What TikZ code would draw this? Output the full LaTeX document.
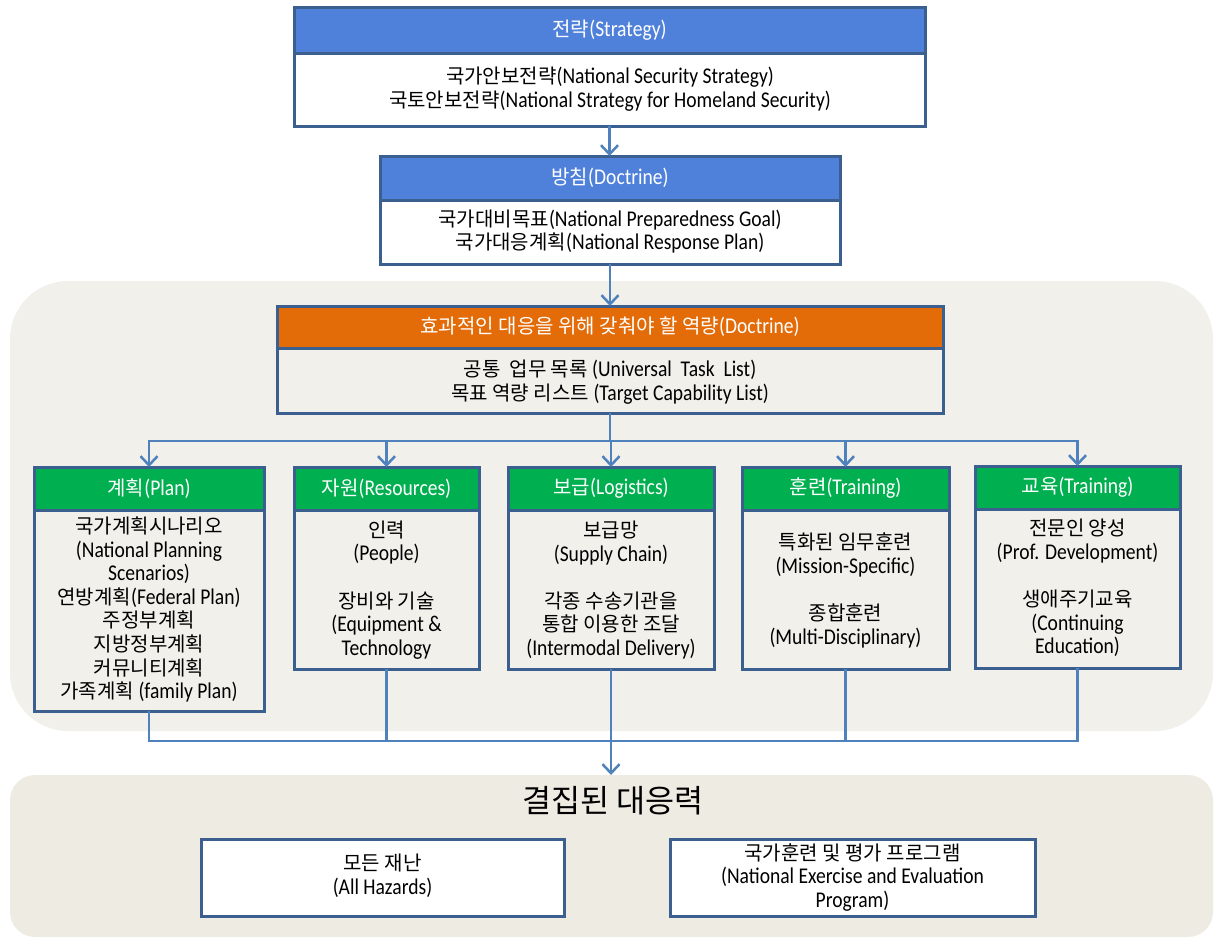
\documentclass[tikz,border=0pt]{standalone}
\usepackage{fontspec}
\setmainfont{Carlito}[FakeStretch=0.87]
\newfontfamily\kr{Noto Sans CJK KR}[Scale=0.89]
\usetikzlibrary{arrows.meta}
\newcommand{\K}[1]{{\kr #1}}
\definecolor{bord}{HTML}{3B5F8E}
\definecolor{hblue}{HTML}{4F81DB}
\definecolor{hgreen}{HTML}{00B050}
\definecolor{horange}{HTML}{E36C09}
\definecolor{conncol}{HTML}{4F81BD}
\definecolor{bgA}{HTML}{F1F0EB}
\definecolor{bgB}{HTML}{EEECE2}
\tikzset{
  frame/.style={draw=bord, line width=3pt, anchor=north west, outer sep=0pt, inner sep=0pt},
  hdr/.style={frame, text=white, font=\fontsize{22.5}{23.6}\selectfont},
  zone/.style={anchor=north west, outer sep=0pt, inner sep=0pt, draw=none},
  txt/.style={align=center, inner sep=0pt, font=\fontsize{22.5}{23.6}\selectfont},
  conn/.style={draw=conncol, line width=2.5pt},
  arr/.style={conn, -{Straight Barb[length=9pt,width=17pt]}},
}
\begin{document}
\begin{tikzpicture}[x=1pt,y=-1pt]
\useasboundingbox (0,0) rectangle (1223,946);
% background zones
\node[zone, fill=bgA, minimum width=1203pt, minimum height=450pt, rounded corners=58pt] (zoneA) at (10,281) {};
\node[zone, fill=bgB, minimum width=1203pt, minimum height=162pt, rounded corners=25pt] (zoneB) at (10,775) {};
% strategy
\node[frame, fill=white, minimum width=631pt, minimum height=119pt] (s) at (294,7) {};
\node[hdr, fill=hblue, minimum width=631pt, minimum height=46pt] (sh) at (294,7) {\K{전략}(Strategy)};
\node[txt] (st) at (610,89) {\K{국가안보전략}(National Security Strategy)\\\K{국토안보전략}(National Strategy for Homeland Security)};
% doctrine
\node[frame, fill=white, minimum width=460pt, minimum height=108pt] (d) at (380,156) {};
\node[hdr, fill=hblue, minimum width=460pt, minimum height=44pt] (dh) at (380,156) {\K{방침}(Doctrine)};
\node[txt] (dt) at (610,231.5) {\K{국가대비목표}(National Preparedness Goal)\\\K{국가대응계획}(National Response Plan)};
% capability
\node[frame, minimum width=666pt, minimum height=107pt] (o) at (277,306) {};
\node[hdr, fill=horange, minimum width=666pt, minimum height=42pt] (oh) at (277,306) {\K{효과적인 대응을 위해 갖춰야 할 역량}(Doctrine)};
\node[txt] (ot) at (610,382) {\K{공통\ \ 업무 목록} (Universal\ \ Task\ \ List)\\\K{목표 역량 리스트} (Target Capability List)};
% five boxes
\node[frame, minimum width=230pt, minimum height=244pt] (b1) at (34,467) {};
\node[hdr, fill=hgreen, minimum width=230pt, minimum height=43pt] (b1h) at (34,467) {\K{계획}(Plan)};
\node[txt] (b1t) at (149,609.5) {\K{국가계획시나리오}\\(National Planning\\Scenarios)\\\K{연방계획}(Federal Plan)\\\K{주정부계획}\\\K{지방정부계획}\\\K{커뮤니티계획}\\\K{가족계획} (family Plan)};
\node[frame, minimum width=185pt, minimum height=202pt] (b2) at (294,467) {};
\node[hdr, fill=hgreen, minimum width=185pt, minimum height=43pt] (b2h) at (294,467) {\K{자원}(Resources)};
\node[txt] (b2t) at (386.5,590) {\K{인력}\\(People)\\[23.6pt]\K{장비와 기술}\\(Equipment \&\\Technology};
\node[frame, minimum width=206pt, minimum height=202pt] (b3) at (508,467) {};
\node[hdr, fill=hgreen, minimum width=206pt, minimum height=43pt] (b3h) at (508,467) {\K{보급}(Logistics)};
\node[txt] (b3t) at (611,590) {\K{보급망}\\(Supply Chain)\\[23.6pt]\K{각종 수송기관을}\\\K{통합 이용한 조달}\\(Intermodal Delivery)};
\node[frame, minimum width=207pt, minimum height=202pt] (b4) at (742,467) {};
\node[hdr, fill=hgreen, minimum width=207pt, minimum height=43pt] (b4h) at (742,467) {\K{훈련}(Training)};
\node[txt] (b4t) at (845.5,590.5) {\K{특화된 임무훈련}\\(Mission-Specific)\\[23.6pt]\K{종합훈련}\\(Multi-Disciplinary)};
\node[frame, minimum width=205pt, minimum height=202pt] (b5) at (975,466) {};
\node[hdr, fill=hgreen, minimum width=205pt, minimum height=43pt] (b5h) at (975,466) {\K{교육}(Training)};
\node[txt] (b5t) at (1077.5,588) {\K{전문인 양성}\\(Prof. Development)\\[23.6pt]\K{생애주기교육}\\(Continuing\\Education)};
% bottom
\node[font=\fontsize{35.5}{38}\selectfont, inner sep=0pt] (title) at (613,801) {\K{결집된 대응력}};
\node[frame, fill=white, minimum width=363pt, minimum height=77pt] (ha) at (201,839) {};
\node[txt] (hat) at (382.5,876) {\K{모든 재난}\\(All Hazards)};
\node[frame, fill=white, minimum width=365pt, minimum height=77pt] (hb) at (670,839) {};
\node[txt] (hbt) at (852.5,877.5) {\K{국가훈련 및 평가 프로그램}\\(National Exercise and Evaluation\\Program)};
% connectors
\draw[arr] (s.south) -- (s.south |- d.north);
\draw[arr] (d.south) -- (d.south |- o.north);
\coordinate (br) at (610,441);
\draw[conn] (o.south) -- (br);
\draw[arr] (br) -| (b1.north);
\draw[arr] (br) -| (b2.north);
\draw[arr] (br) -| (b3.north);
\draw[arr] (br) -| (b4.north);
\draw[arr] (br) -| (b5.north);
\coordinate (jn) at (611,741);
\draw[conn] (b1.south) |- (jn);
\draw[conn] (b2.south) |- (jn);
\draw[conn] (b3.south) -- (b3.south |- jn);
\draw[conn] (b4.south) |- (jn);
\draw[conn] (b5.south) |- (jn);
\draw[arr] (jn) -- (jn |- zoneB.north);
\end{tikzpicture}
\end{document}
